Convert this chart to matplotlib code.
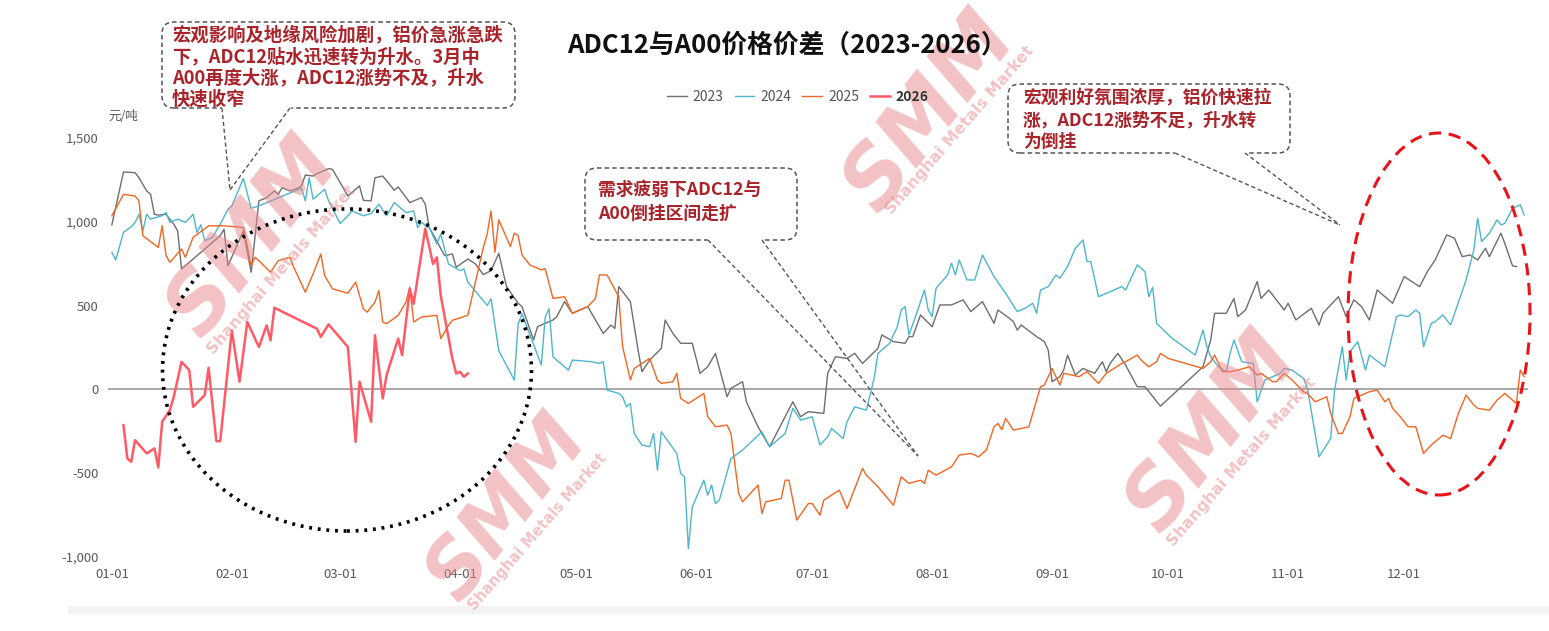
import matplotlib
matplotlib.use('Agg')
import matplotlib.pyplot as plt
from matplotlib.patches import FancyBboxPatch, Ellipse, Rectangle
from matplotlib.lines import Line2D
from matplotlib.transforms import IdentityTransform
from matplotlib.ticker import FuncFormatter

plt.rcParams['font.family'] = ['Noto Sans CJK SC', 'DejaVu Sans']

# day of year (0 = Jan 1) and price spread in yuan/ton
day_2023 = [0, 3, 6, 7, 9, 10, 11, 12, 14, 16, 17, 18, 21, 28, 29, 30, 34, 36, 38, 40, 42, 43, 44, 46, 48,
            49, 50, 52, 53, 56, 57, 61, 64, 65, 67, 68, 70, 73, 74, 77, 80, 81, 82, 83, 86, 88, 89, 92, 94,
            96, 98, 100, 102, 105, 106, 109, 110, 114, 115, 117, 119, 123, 127, 129, 130, 131, 134, 136,
            137, 139, 142, 143, 145, 147, 150, 152, 154, 156, 159, 160, 163, 164, 167, 168, 170, 172, 176,
            178, 180, 184, 185, 187, 190, 192, 194, 198, 199, 202, 205, 206, 207, 209, 212, 214, 217, 220,
            222, 225, 228, 229, 232, 233, 234, 235, 239, 241, 242, 243, 245, 246, 247, 249, 251, 254, 256,
            257, 258, 260, 262, 265, 267, 271, 282, 284, 285, 288, 290, 291, 293, 296, 297, 299, 301, 303,
            304, 306, 310, 312, 313, 317, 319, 321, 323, 325, 327, 331, 334, 338, 340, 342, 345, 347, 349,
            351, 353, 355, 356, 359, 360, 362, 363]
val_2023 = [982, 1297, 1293, 1263, 1184, 1164, 1045, 1040, 1045, 986, 946, 719, 778, 917, 956, 738, 946,
            699, 1125, 1144, 1184, 1164, 1204, 1184, 1200, 1214, 1279, 1273, 1287, 1317, 1313, 1154, 1214,
            1128, 1125, 1263, 1273, 1188, 1208, 1115, 1144, 1105, 966, 927, 798, 808, 729, 778, 748, 685,
            709, 812, 613, 514, 494, 295, 374, 414, 434, 524, 454, 494, 334, 384, 364, 613, 524, 235, 106,
            175, 245, 414, 334, 275, 275, 96, 135, 215, -44, 6, 46, -74, -223, -263, -342, -253, -74, -163,
            -133, -143, 96, 195, 185, 215, 155, 245, 325, 285, 275, 315, 315, 444, 374, 504, 504, 534, 464,
            524, 394, 474, 424, 404, 354, 384, 315, 285, 235, 46, 76, 116, 205, 86, 125, 96, 165, 106, 155,
            215, 145, 16, 16, -100, 135, 295, 454, 454, 543, 434, 474, 643, 543, 593, 534, 474, 514, 414,
            484, 384, 454, 553, 434, 534, 494, 414, 593, 514, 673, 613, 703, 772, 922, 902, 792, 802, 772,
            842, 792, 932, 872, 737, 733]

day_2024 = [0, 1, 3, 5, 6, 7, 8, 9, 10, 13, 14, 15, 17, 19, 21, 22, 23, 24, 26, 28, 30, 31, 34, 36, 38,
            49, 50, 51, 52, 55, 56, 59, 61, 62, 65, 67, 69, 71, 73, 76, 78, 79, 80, 82, 84, 85, 87, 90, 91,
            92, 97, 98, 100, 104, 105, 106, 111, 112, 113, 114, 116, 118, 119, 124, 126, 127, 128, 131, 132,
            133, 134, 135, 137, 139, 140, 141, 142, 146, 147, 148, 149, 150, 153, 154, 155, 156, 157, 160,
            163, 168, 170, 174, 176, 178, 181, 183, 185, 186, 189, 190, 192, 195, 197, 198, 201, 203, 204,
            205, 206, 208, 210, 211, 212, 213, 216, 217, 218, 219, 221, 223, 225, 228, 231, 234, 236, 238,
            239, 240, 242, 244, 245, 247, 249, 251, 252, 253, 255, 261, 262, 265, 267, 268, 269, 270, 274,
            280, 282, 283, 284, 286, 288, 289, 290, 292, 295, 296, 298, 300, 302, 303, 305, 308, 309, 312,
            315, 316, 318, 319, 320, 322, 324, 325, 329, 332, 333, 335, 337, 338, 339, 341, 342, 344, 346,
            350, 352, 353, 354, 356, 358, 359, 360, 362, 364, 365]
val_2024 = [818, 772, 937, 970, 996, 1045, 946, 1045, 1016, 1036, 1055, 996, 1016, 996, 1045, 937, 982,
            887, 907, 986, 1075, 1095, 1259, 1081, 1095, 1200, 1125, 1263, 1135, 1194, 1125, 990, 1036,
            1065, 1036, 1049, 1105, 1036, 1115, 1055, 1065, 966, 996, 966, 867, 927, 748, 709, 719, 640,
            501, 541, 230, 56, 392, 451, 145, 432, 481, 194, 154, 115, 175, 165, 155, 165, -4, -24, -44,
            -104, -84, -263, -332, -342, -263, -482, -253, -382, -502, -522, -950, -701, -542, -631, -571,
            -681, -661, -412, -362, -253, -342, -263, -113, -183, -163, -332, -283, -233, -293, -193, -104,
            -124, 66, 215, 275, 374, 474, 494, 325, 454, 593, 474, 434, 603, 683, 753, 683, 772, 653, 653,
            802, 673, 573, 464, 484, 514, 454, 593, 613, 683, 663, 733, 842, 892, 763, 763, 553, 613, 593,
            743, 703, 553, 609, 394, 305, 205, 354, 255, 195, 135, 106, 215, 295, 165, 155, -74, 56, 76, 96,
            125, 115, 66, 6, -402, -293, -4, 255, 56, 225, 285, 115, 205, 135, 434, 444, 434, 474, 454, 255,
            394, 404, 444, 384, 653, 832, 1021, 882, 932, 1011, 982, 990, 1081, 1101, 1041]

day_2025 = [0, 3, 6, 7, 8, 12, 13, 14, 15, 18, 19, 21, 25, 29, 34, 36, 37, 38, 41, 43, 46, 47, 50, 52, 54,
            55, 57, 61, 63, 65, 66, 68, 69, 70, 71, 74, 76, 77, 78, 80, 84, 85, 87, 88, 92, 96, 97, 98, 99,
            100, 103, 104, 105, 106, 108, 111, 112, 114, 117, 119, 123, 125, 126, 128, 131, 132, 134, 135,
            139, 141, 142, 145, 146, 147, 149, 153, 154, 156, 159, 160, 162, 163, 167, 168, 169, 173, 174,
            175, 177, 180, 181, 183, 184, 188, 190, 194, 195, 198, 202, 204, 206, 209, 210, 211, 213, 217,
            219, 222, 224, 226, 228, 229, 230, 231, 233, 237, 240, 241, 243, 244, 245, 246, 248, 250, 252,
            255, 257, 259, 261, 262, 265, 266, 268, 270, 271, 273, 276, 282, 284, 285, 287, 289, 291, 294,
            296, 297, 300, 301, 303, 305, 308, 309, 311, 314, 315, 317, 318, 320, 321, 324, 325, 327, 329,
            330, 331, 333, 335, 337, 339, 341, 344, 346, 348, 350, 352, 353, 356, 358, 360, 361, 363, 364,
            365]
val_2025 = [1036, 1164, 1154, 1125, 917, 847, 976, 798, 758, 838, 788, 907, 976, 976, 966, 738, 788, 768,
            699, 768, 788, 729, 580, 689, 808, 679, 600, 574, 640, 481, 461, 521, 590, 402, 392, 442, 521,
            610, 402, 432, 442, 303, 382, 412, 442, 847, 927, 1065, 818, 1011, 852, 932, 917, 802, 743, 713,
            720, 543, 553, 454, 494, 543, 683, 683, 553, 255, 56, 125, 185, 56, 36, 46, 96, -54, -84, -24,
            -163, -223, -213, -263, -621, -671, -571, -741, -671, -651, -542, -542, -780, -681, -681, -751,
            -661, -601, -711, -472, -512, -581, -691, -522, -561, -542, -561, -482, -512, -462, -392, -382,
            -402, -362, -223, -203, -240, -173, -243, -223, 16, 26, 125, 76, 26, 96, 86, 76, 106, 36, 96,
            125, 155, 165, 205, 175, 135, 165, 215, 185, 165, 125, 165, 205, 106, 106, 115, 135, 86, 96, 46,
            46, 96, 56, -14, -24, -74, -44, -143, -263, -263, -163, -54, -24, -14, -4, -74, -54, -113, -163,
            -223, -223, -382, -332, -273, -293, -143, -34, -94, -113, -124, -64, -24, -44, -84, 115, 76]

day_2026 = [3, 4, 5, 6, 9, 11, 12, 13, 15, 16, 18, 20, 21, 24, 25, 27, 28, 31, 33, 35, 38, 40, 41, 42, 53,
            54, 56, 61, 63, 64, 67, 68, 70, 71, 74, 75, 77, 78, 81, 83, 84, 85, 88, 89, 90, 91, 92]
val_2026 = [-213, -412, -432, -303, -382, -352, -466, -193, -123, -44, 164, 115, -104, -34, 129, -309, -309,
            352, 46, 402, 253, 382, 293, 487, 362, 313, 388, 253, -313, 46, -193, 323, -54, 85, 303, 204,
            600, 511, 960, 748, 788, 560, 184, 95, 105, 75, 95]

years = ['2023', '2024', '2025', '2026']
colors = ['#6e6e6e', '#4db6ca', '#f26522', '#ff5a66']
month_days = [0, 31, 59, 90, 120, 151, 181, 212, 243, 273, 304, 334]
month_labels = ['01-01', '02-01', '03-01', '04-01', '05-01', '06-01',
                '07-01', '08-01', '09-01', '10-01', '11-01', '12-01']

W, H = 1549, 631
fig = plt.figure(figsize=(W / 100, H / 100), dpi=100)
ax = fig.add_axes([108 / W, 1 - 557 / H, 1420 / W, 419 / H])

PX = IdentityTransform()


def watermark(cx, cy, tx, ty, size=60):
    fig.text(cx / W, 1 - cy / H, 'SMM', fontsize=size, fontweight='heavy', family='DejaVu Sans',
             style='italic', color='#e8868c', alpha=0.5, rotation=52, ha='center', va='center', zorder=1)
    fig.text(tx / W, 1 - ty / H, 'Shanghai Metals Market', fontsize=size * 0.19, fontweight='bold',
             family='DejaVu Sans', color='#e8868c', alpha=0.5, rotation=49,
             ha='center', va='center', zorder=1)


watermark(253, 237, 282, 270)
watermark(930, 112, 960, 130)
watermark(1212, 432, 1242, 462)
watermark(508, 508, 538, 532, size=56)

# plot the series
data = [(day_2023, val_2023), (day_2024, val_2024), (day_2025, val_2025), (day_2026, val_2026)]
widths = [1.0, 1.0, 1.0, 1.8]
for (d, v), yr, c, lw in zip(data, years, colors, widths):
    ax.plot(d, v, color=c, lw=lw, label=yr, zorder=3)

ax.axhline(0, color='#a8a8a8', lw=1.4, zorder=2)
ax.set_xlim(-1, 366)
ax.set_ylim(-1000, 1500)
ax.set_yticks([-1000, -500, 0, 500, 1000, 1500])
ax.yaxis.set_major_formatter(FuncFormatter(lambda x, p: '{:,.0f}'.format(x)))
ax.set_xticks(month_days)
ax.set_xticklabels(month_labels)
ax.tick_params(length=0, labelsize=9.5, labelcolor='#595959')
ax.tick_params(axis='y', pad=7)
ax.tick_params(axis='x', pad=8)
for s in ax.spines.values():
    s.set_visible(False)
ax.patch.set_alpha(0)

fig.text(108 / W, 1 - 117 / H, '元/吨', fontsize=9, color='#595959', va='center')

# title and legend
fig.text(787 / W, 1 - 45 / H, 'ADC12与A00价格价差（2023-2026）', fontsize=18.5,
         fontweight='bold', ha='center', va='center', color='#111111', zorder=9)
leg = fig.legend(*ax.get_legend_handles_labels(), loc='center', bbox_to_anchor=(798 / W, 1 - 97 / H),
                 ncol=4, frameon=False, fontsize=10, handlelength=1.4, handletextpad=0.45,
                 columnspacing=0.8)
leg.set_zorder(9)
for t in leg.get_texts():
    t.set_color('#555555')
leg.get_texts()[-1].set_fontweight('bold')
leg.get_texts()[-1].set_color('#333333')

# callout boxes
red_txt = '#a8232a'


def callout(x0, y0, x1, y1, lines, tx, ty0, step, tails, tip, size):
    box = FancyBboxPatch((x0, H - y1), x1 - x0, y1 - y0, boxstyle='round,pad=0,rounding_size=12',
                         transform=PX, fc='white', ec='#555555', lw=1.1, ls=(0, (3, 2)), zorder=5)
    fig.add_artist(box)
    fig.add_artist(Line2D([tails[0] + 1, tails[1] - 1], [H - y1, H - y1], transform=PX,
                          color='white', lw=2.5, zorder=6))
    for tx0 in tails:
        fig.add_artist(Line2D([tx0, tip[0]], [H - y1, H - tip[1]], transform=PX,
                              color='#555555', lw=1.0, ls=(0, (3, 2)), zorder=6))
    for i, line in enumerate(lines):
        fig.text(tx / W, 1 - (ty0 + i * step) / H, line, fontsize=size, fontweight='bold',
                 color=red_txt, ha='left', va='center', zorder=7)


callout(162, 22, 515, 108,
        ['宏观影响及地缘风险加剧，铝价急涨急跌',
         '下，ADC12贴水迅速转为升水。3月中',
         'A00再度大涨，ADC12涨势不及，升水',
         '快速收窄'],
        172, 35, 21.5, (222, 290), (230, 190), 13.2)
callout(585, 168, 797, 240,
        ['需求疲弱下ADC12与', 'A00倒挂区间走扩'],
        598, 190, 24, (708, 762), (918, 456), 12.8)
callout(1008, 84, 1290, 153,
        ['宏观利好氛围浓厚，铝价快速拉', '涨，ADC12涨势不足，升水转', '为倒挂'],
        1023, 98, 22, (1175, 1245), (1340, 225), 12.8)

# highlight ellipses
fig.add_artist(Ellipse((347, H - 370), 369, 322, transform=PX, fill=False, ec='black',
                       lw=2.6, ls=(0, (0.8, 1.6)), zorder=4))
fig.add_artist(Ellipse((1439, H - 314), 182, 362, transform=PX, fill=False, ec='#e8141b',
                       lw=2.2, ls=(0, (4, 2.5)), zorder=4))

# bottom strip
fig.add_artist(Rectangle((68, H - 614), W - 68, 8, transform=PX, fc='#f3f3f3', ec='none', zorder=0))

fig.savefig('out.png', dpi=100)
